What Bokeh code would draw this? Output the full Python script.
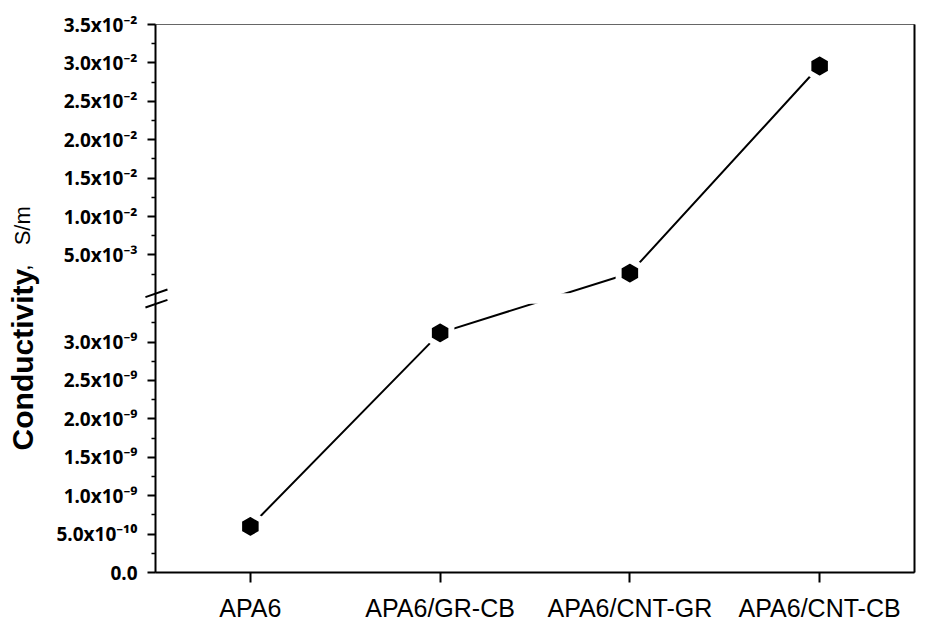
import numpy as np
from bokeh.plotting import figure
from bokeh.layouts import row
from bokeh.models import Range1d, FixedTicker, LinearAxis, BoxAnnotation
from bokeh.core.properties import value
from bokeh.embed import file_html
from bokeh.resources import INLINE

# ---------------- data ----------------
categories = ["APA6", "APA6/GR-CB", "APA6/CNT-GR", "APA6/CNT-CB"]
conductivity = [6.0e-10, 3.12e-9, 2.62e-3, 2.96e-2]  # S/m

lower_tick_values = [0.0, 5e-10, 1e-9, 1.5e-9, 2e-9, 2.5e-9, 3e-9]
lower_tick_labels = ["0.0", "5.0x10⁻¹⁰", "1.0x10⁻⁹", "1.5x10⁻⁹",
                     "2.0x10⁻⁹", "2.5x10⁻⁹", "3.0x10⁻⁹"]
upper_tick_values = [5e-3, 1e-2, 1.5e-2, 2e-2, 2.5e-2, 3e-2, 3.5e-2]
upper_tick_labels = ["5.0x10⁻³", "1.0x10⁻²", "1.5x10⁻²", "2.0x10⁻²",
                     "2.5x10⁻²", "3.0x10⁻²", "3.5x10⁻²"]

y_title = "Conductivity"
y_sep = ","
y_unit = "S/m"

# ---------------- broken y axis ----------------
LOWER_STEP = 5e-10
LOWER_TOP = 3.5e-9
UPPER_STEP = 5e-3
UPPER_TOP = 3.5e-2
GAP = 0.27
LOWER_END = LOWER_TOP / LOWER_STEP
UPPER_BASE = LOWER_END + GAP


def lower_pos(v):
    return np.asarray(v, float) / LOWER_STEP


def upper_pos(v):
    return UPPER_BASE + np.asarray(v, float) / UPPER_STEP


def to_axis(v):
    v = np.asarray(v, float)
    return np.where(v <= LOWER_TOP, lower_pos(v), upper_pos(v))


y_disp = to_axis(conductivity)
x_pos = np.arange(len(categories)) + 0.5

major_pos = [round(float(t), 6) for t in lower_pos(lower_tick_values)] + \
            [round(float(t), 6) for t in upper_pos(upper_tick_values)]
minor_pos = [round(float(t), 6) for t in lower_pos(np.array(lower_tick_values) + LOWER_STEP / 2)] + \
            [round(float(t), 6) for t in upper_pos(np.array(upper_tick_values) - UPPER_STEP / 2)]
y_overrides = {pos: lab for pos, lab in zip(major_pos, lower_tick_labels + upper_tick_labels)}
x_overrides = {float(x): c for x, c in zip(x_pos, categories)}

FONT = "Liberation Sans"
TICK_FONT = "Noto Sans"

yr = Range1d(0, float(upper_pos(UPPER_TOP)))
TOP_B, BOT_B = 24, 52
LEFT_W = 45

p = figure(x_range=Range1d(0, len(categories)), y_range=yr,
           width=928 - LEFT_W, height=624, output_backend="svg",
           toolbar_location=None,
           min_border_left=155 - LEFT_W, min_border_right=14,
           min_border_top=TOP_B, min_border_bottom=BOT_B)
p.background_fill_color = "white"
p.border_fill_color = "white"
p.outline_line_color = "#666666"
p.outline_line_width = 1
p.xgrid.visible = False
p.ygrid.visible = False

# x axis
xa = p.xaxis[0]
xa.ticker = FixedTicker(ticks=[float(x) for x in x_pos], minor_ticks=[])
xa.major_label_overrides = x_overrides
xa.axis_line_width = 2
xa.axis_line_color = "black"
xa.major_tick_line_width = 2
xa.major_tick_out = 10
xa.major_tick_in = 0
xa.minor_tick_line_color = None
xa.major_label_text_font = FONT
xa.major_label_text_font_size = "25px"
xa.major_label_text_color = "black"
xa.major_label_standoff = 11

# y axis
ya = p.yaxis[0]
ya.ticker = FixedTicker(ticks=major_pos, minor_ticks=minor_pos)
ya.major_label_overrides = y_overrides
ya.axis_line_width = 2
ya.axis_line_color = "black"
ya.major_tick_line_width = 2
ya.major_tick_out = 8
ya.major_tick_in = 0
ya.minor_tick_line_width = 1.5
ya.minor_tick_out = 4
ya.minor_tick_in = 0
ya.major_label_text_font = TICK_FONT
ya.major_label_text_font_style = "bold"
ya.major_label_text_font_size = "19px"
ya.major_label_text_color = "black"
ya.major_label_standoff = 10

# right frame edge
ra = LinearAxis(ticker=FixedTicker(ticks=[]), axis_line_width=2,
                axis_line_color="black", major_tick_line_color=None,
                minor_tick_line_color=None, major_label_text_alpha=0,
                major_label_standoff=0)
p.add_layout(ra, "right")

# data
p.line(x_pos, y_disp, line_color="black", line_width=2)
p.scatter(x_pos, y_disp, marker="hex", size=26, angle=np.pi / 2,
          fill_color="black", line_color="white", line_width=6,
          line_join="round")

# gap of the broken axis in the plotted line
i0 = float(x_pos[categories.index("APA6/GR-CB")])
i1 = float(x_pos[categories.index("APA6/CNT-GR")])
p.add_layout(BoxAnnotation(left=i0, right=i1, bottom=LOWER_END, top=UPPER_BASE,
                           fill_color="white", fill_alpha=1.0, line_color=None))

# break marks on the y axis (overlay level so they may cross the axis)
brk = np.array([LOWER_END, UPPER_BASE])
p.segment(x0=np.full(2, -0.053), y0=brk - 0.1, x1=np.full(2, 0.063), y1=brk + 0.1,
          line_color="black", line_width=2, level="overlay")

# left strip holding the rotated y title
t = figure(x_range=Range1d(0, LEFT_W), y_range=yr, width=LEFT_W, height=624,
           output_backend="svg", toolbar_location=None,
           x_axis_type=None, y_axis_type=None,
           min_border_left=0, min_border_right=0,
           min_border_top=TOP_B, min_border_bottom=BOT_B)
t.outline_line_color = None
t.xgrid.visible = False
t.ygrid.visible = False
t.background_fill_color = "white"
t.border_fill_color = "white"
t.text(x=[22], y=[3.18], text=[y_title], angle=np.pi / 2,
       text_font=value(FONT), text_font_style="bold", text_font_size="30px",
       text_color="black", text_align="left", text_baseline="alphabetic")
t.text(x=[22], y=[7.86], text=[y_sep], angle=np.pi / 2,
       text_font=value(FONT), text_font_size="22px",
       text_color="black", text_align="left", text_baseline="alphabetic")
t.text(x=[22], y=[8.52], text=[y_unit], angle=np.pi / 2,
       text_font=value(FONT), text_font_size="22px",
       text_color="black", text_align="left", text_baseline="alphabetic")

layout = row(t, p, spacing=0)
open("out.html", "w").write(file_html(layout, INLINE))
